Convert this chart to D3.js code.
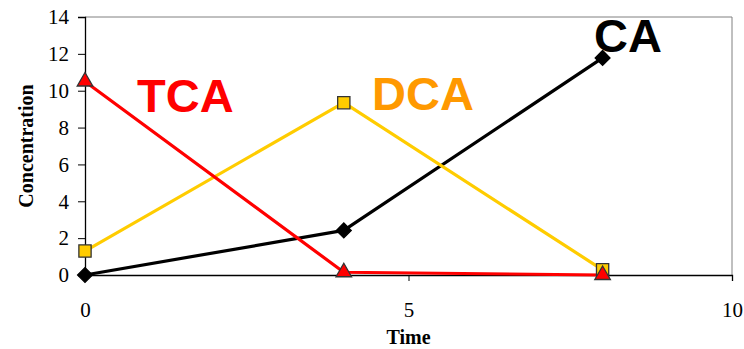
<!DOCTYPE html>
<html>
<head>
<meta charset="utf-8">
<script src="https://cdn.jsdelivr.net/npm/d3@7"></script>
<style>
  html, body { margin: 0; padding: 0; background: #fff; }
  svg { display: block; }
</style>
</head>
<body>
<svg id="chart" width="744" height="349"></svg>
<script>
// Sampling times and measured concentrations for each compound
const times = [0, 4, 8];
const tcaValues = [10.5, 0.15, 0.0];
const dcaValues = [1.3, 9.35, 0.28];
const caValues  = [0.0, 2.42, 11.78];

const xTicks = [0, 5, 10];
const yTicks = [0, 2, 4, 6, 8, 10, 12, 14];

const svg = d3.select("#chart");
const margin = { left: 85, right: 12, top: 17, bottom: 74 };
const W = 744, H = 349;
const serif = "'Liberation Serif', 'Times New Roman', serif";

const x = d3.scaleLinear().domain([0, 10]).range([margin.left, W - margin.right]);
const y = d3.scaleLinear().domain([0, 14]).range([H - margin.bottom, margin.top]);

// Plot-area frame (top and right edges)
svg.append("path")
  .attr("d", `M${x(0)},${y(14)}H${x(10)}V${y(0)}`)
  .attr("fill", "none").attr("stroke", "#808080").attr("stroke-width", 1);

// Y axis
const yAxis = d3.axisLeft(y).tickValues(yTicks).tickSize(7).tickPadding(9);
const gy = svg.append("g").attr("transform", `translate(${x(0)},0)`).call(yAxis);
gy.attr("font-size", null).attr("font-family", null);
gy.select(".domain").attr("stroke", "#000").attr("stroke-width", 1.3);
gy.selectAll(".tick line").attr("stroke", "#000");
gy.selectAll("text")
  .style("font-family", serif)
  .style("font-size", "21px").attr("fill", "#000");

// X axis
const xAxis = d3.axisBottom(x).tickValues(xTicks).tickSize(6).tickPadding(0);
const gx = svg.append("g").attr("transform", `translate(0,${y(0)})`).call(xAxis);
gx.attr("font-size", null).attr("font-family", null);
gx.select(".domain").attr("stroke", "#000").attr("stroke-width", 1.3);
gx.selectAll(".tick line").attr("stroke", "#000");
gx.selectAll("text")
  .attr("dy", null)
  .attr("y", 42)
  .style("font-family", serif)
  .style("font-size", "21px").attr("fill", "#000");

// Axis titles
svg.append("text")
  .attr("x", x(5)).attr("y", 344)
  .attr("text-anchor", "middle")
  .style("font-family", serif)
  .attr("font-weight", "bold").style("font-size", "20px")
  .text("Time");

svg.append("text")
  .attr("transform", `translate(33,${y(7)}) rotate(-90)`)
  .attr("text-anchor", "middle")
  .style("font-family", serif)
  .attr("font-weight", "bold").style("font-size", "20px")
  .text("Concentration");

const series = [
  { name: "CA",  values: caValues,  color: "#000000", marker: d3.symbolSquare,   rotate: 45, fill: "#000000", stroke: "#000", size: 110 },
  { name: "DCA", values: dcaValues, color: "#FFCC00", marker: d3.symbolSquare,   rotate: 0,  fill: "#FFCC00", stroke: "#333", size: 150 },
  { name: "TCA", values: tcaValues, color: "#FF0000", marker: d3.symbolTriangle, rotate: 0,  fill: "#FF0000", stroke: "#333", size: 105 }
];

const line = d3.line().x((d, i) => x(times[i])).y(d => y(d));

series.forEach(s => {
  svg.append("path")
    .datum(s.values)
    .attr("d", line)
    .attr("fill", "none")
    .attr("stroke", s.color)
    .attr("stroke-width", 3.2)
    .attr("stroke-linejoin", "round");
});

series.forEach(s => {
  const sym = d3.symbol().type(s.marker).size(s.size);
  svg.append("g").selectAll("path")
    .data(s.values)
    .join("path")
    .attr("transform", (d, i) => `translate(${x(times[i])},${y(d)}) rotate(${s.rotate})`)
    .attr("d", sym)
    .attr("fill", s.fill)
    .attr("stroke", s.stroke)
    .attr("stroke-width", 1.3);
});

// Compound labels
const labels = [
  { text: "TCA", x: 137, y: 112, color: "#FF0000" },
  { text: "DCA", x: 372, y: 110, color: "#FF9900" },
  { text: "CA",  x: 594, y: 52,  color: "#000000" }
];
svg.append("g").selectAll("text")
  .data(labels)
  .join("text")
  .attr("x", d => d.x).attr("y", d => d.y)
  .attr("fill", d => d.color)
  .style("font-family", "'Liberation Sans', Arial, sans-serif")
  .attr("font-weight", "bold").style("font-size", "47px")
  .text(d => d.text);
</script>
</body>
</html>
